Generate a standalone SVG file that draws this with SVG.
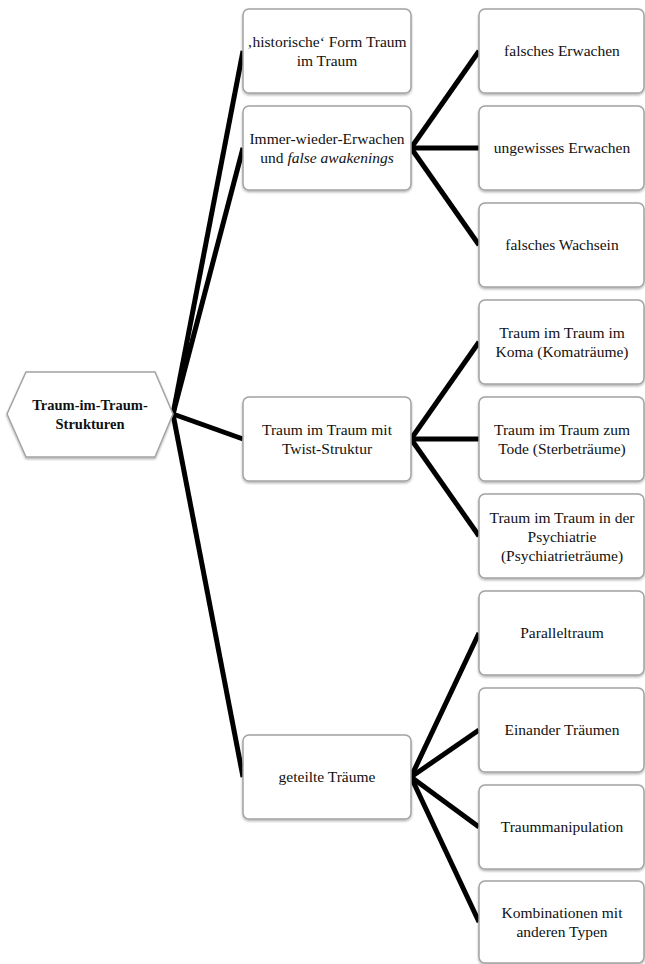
<svg xmlns="http://www.w3.org/2000/svg" width="645" height="964" viewBox="0 0 645 964">
<style>
.box{fill:#fff;stroke:#a3a3a3;stroke-width:1.5;filter:url(#sh)}
text{font-family:'Liberation Serif','Times New Roman','DejaVu Serif',serif;font-size:15.5px;fill:#111;text-anchor:middle}
.b{font-weight:bold;font-size:14.5px}
.c line{stroke:#000;stroke-width:5;stroke-linecap:butt}
</style>
<defs>
<filter id="sh" x="-10%" y="-10%" width="120%" height="130%">
<feDropShadow dx="0" dy="1.5" stdDeviation="1.2" flood-color="#000" flood-opacity="0.3"/>
</filter>
</defs>
<rect width="645" height="964" fill="#fff"/>
<g id="connectors" class="c">
<line x1="173" y1="414" x2="243" y2="51"/>
<line x1="173" y1="414" x2="243" y2="148"/>
<line x1="173" y1="414" x2="243" y2="439"/>
<line x1="173" y1="414" x2="243" y2="777"/>
<line x1="411" y1="148" x2="479" y2="51"/>
<line x1="411" y1="148" x2="479" y2="148"/>
<line x1="411" y1="148" x2="479" y2="245"/>
<line x1="411" y1="439" x2="479" y2="342"/>
<line x1="411" y1="439" x2="479" y2="439"/>
<line x1="411" y1="439" x2="479" y2="536"/>
<line x1="411" y1="777" x2="479" y2="633"/>
<line x1="411" y1="777" x2="479" y2="730"/>
<line x1="411" y1="777" x2="479" y2="827"/>
<line x1="411" y1="777" x2="479" y2="922"/>
</g>
<g id="root">
<polygon class="box" points="7,414 26,372 155,372 173,414 155,457 26,457"/>
<text class="b" x="90" y="410">Traum-im-Traum-</text>
<text class="b" x="90" y="429">Strukturen</text>
</g>
<g id="historisch">
<rect class="box" x="243" y="9" width="168" height="84" rx="6"/>
<text x="327" y="47">‚historische‘ Form Traum</text>
<text x="327" y="66">im Traum</text>
</g>
<g id="immer">
<rect class="box" x="243" y="106" width="168" height="84" rx="6"/>
<text x="327" y="144">Immer-wieder-Erwachen</text>
<text x="327" y="163">und <tspan font-style="italic">false awakenings</tspan></text>
</g>
<g id="twist">
<rect class="box" x="243" y="397" width="168" height="84" rx="6"/>
<text x="327" y="435">Traum im Traum mit</text>
<text x="327" y="454">Twist-Struktur</text>
</g>
<g id="geteilt">
<rect class="box" x="243" y="735" width="168" height="84" rx="6"/>
<text x="327" y="782">geteilte Träume</text>
</g>
<g id="falschesErwachen">
<rect class="box" x="479" y="9" width="165" height="84" rx="6"/>
<text x="562" y="56">falsches Erwachen</text>
</g>
<g id="ungewiss">
<rect class="box" x="479" y="106" width="165" height="84" rx="6"/>
<text x="562" y="153">ungewisses Erwachen</text>
</g>
<g id="wachsein">
<rect class="box" x="479" y="203" width="165" height="84" rx="6"/>
<text x="562" y="250">falsches Wachsein</text>
</g>
<g id="koma">
<rect class="box" x="479" y="300" width="165" height="84" rx="6"/>
<text x="562" y="338">Traum im Traum im</text>
<text x="562" y="357">Koma (Komaträume)</text>
</g>
<g id="tod">
<rect class="box" x="479" y="397" width="165" height="84" rx="6"/>
<text x="562" y="435">Traum im Traum zum</text>
<text x="562" y="454">Tode (Sterbeträume)</text>
</g>
<g id="psych">
<rect class="box" x="479" y="494" width="165" height="84" rx="6"/>
<text x="562" y="523">Traum im Traum in der</text>
<text x="562" y="542">Psychiatrie</text>
<text x="562" y="561">(Psychiatrieträume)</text>
</g>
<g id="parallel">
<rect class="box" x="479" y="591" width="165" height="84" rx="6"/>
<text x="562" y="638">Paralleltraum</text>
</g>
<g id="einander">
<rect class="box" x="479" y="688" width="165" height="84" rx="6"/>
<text x="562" y="735">Einander Träumen</text>
</g>
<g id="manip">
<rect class="box" x="479" y="785" width="165" height="84" rx="6"/>
<text x="562" y="832">Traummanipulation</text>
</g>
<g id="kombi">
<rect class="box" x="479" y="881" width="165" height="82" rx="6"/>
<text x="562" y="918">Kombinationen mit</text>
<text x="562" y="937">anderen Typen</text>
</g>
</svg>
